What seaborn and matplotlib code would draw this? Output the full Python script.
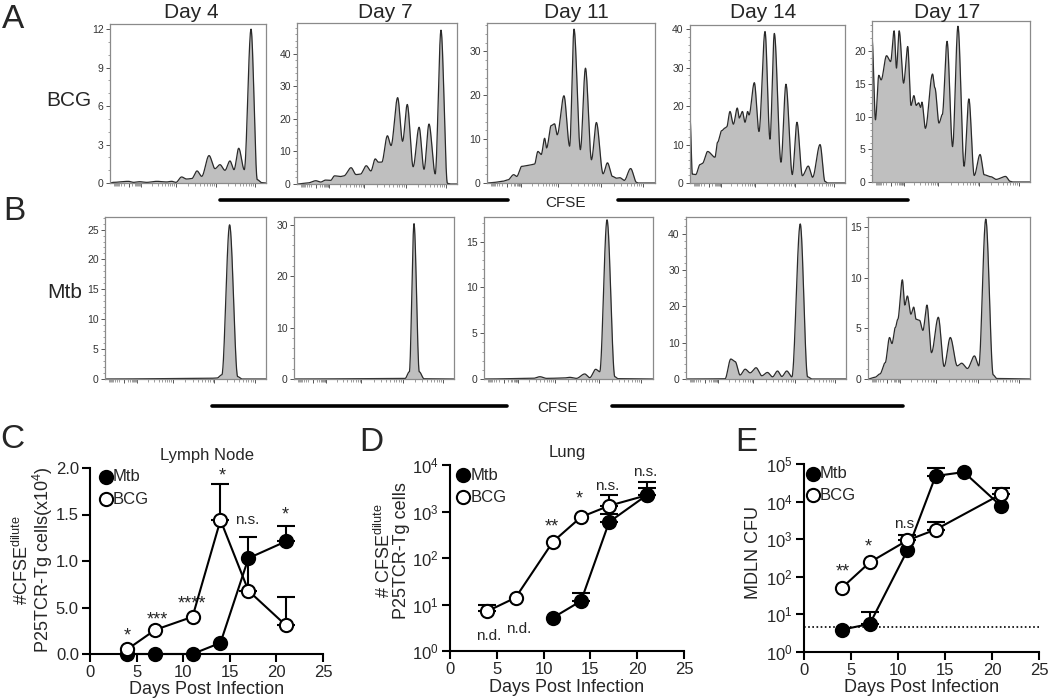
import numpy as np
import pandas as pd
import matplotlib
matplotlib.use("Agg")
import matplotlib.pyplot as plt
import seaborn as sns
from matplotlib.ticker import (MultipleLocator, FixedLocator, NullFormatter, NullLocator,
                               LogFormatterMathtext)

# ---------------- DATA ----------------
# Panel C: lymph node (#CFSE dilute, x10^4)
days = [4, 7, 11, 14, 17, 21]
ln_mtb = [0.0, 0.0, 0.0, 0.12, 1.03, 1.21]
ln_bcg = [0.05, 0.26, 0.40, 1.44, 0.68, 0.31]
ln_mtb_err_days = [21]
ln_mtb_err_top = [1.38]
ln_bcg_err_days = [14, 17, 21]
ln_bcg_err_top = [1.83, 1.26, 0.61]
ln_ytick_vals = [0.0, 0.5, 1.0, 1.5, 2.0]
ln_ytick_labels = ["0.0", "5.0", "1.0", "1.5", "2.0"]

# Panel D: lung
lung_bcg_days = [4, 7, 11, 14, 17, 21]
lung_bcg = [7.2, 14, 224, 760, 1330, 2230]
lung_mtb_days = [11, 14, 17, 21]
lung_mtb = [5.2, 11.9, 594, 2230]
lung_bcg_err_days = [4, 17, 21]
lung_bcg_err_top = [9.7, 2260, 4370]
lung_mtb_err_days = [14, 17, 21]
lung_mtb_err_top = [17.7, 900, 3200]

# Panel E: MDLN CFU
cfu_mtb_days = [4, 7, 11, 14, 17, 21]
cfu_mtb = [3.9, 5.6, 505, 48000, 61000, 7480]
cfu_bcg_days = [4, 7, 11, 14, 21]
cfu_bcg = [50, 243, 933, 1800, 15900]
cfu_mtb_err_days = [7, 14]
cfu_mtb_err_top = [11.6, 78000]
cfu_bcg_err_days = [11, 14, 21]
cfu_bcg_err_top = [1300, 2940, 23500]
cfu_limit = 4.5

# Histogram knots (normalised CFSE position, count) -- peaks and valleys
a4_x = [0, 0.02, 0.118, 0.15, 0.19, 0.235, 0.3, 0.363, 0.395, 0.423, 0.459, 0.491, 0.524, 0.558, 0.588,
        0.635, 0.673, 0.705, 0.737, 0.769, 0.795, 0.825, 0.861, 0.904, 0.944, 0.972, 1]
a4_y = [0, 0.05, 0.13, 0.05, 0.1, 0.05, 0.13, 0.08, 0.13, 0.05, 0.47, 0.31, 0.34, 0.94, 0.52,
        2.14, 1.12, 1.43, 0.99, 1.72, 1.04, 2.71, 1.04, 12.0, 0.26, 0.03, 0]
a7_x = [0, 0.066, 0.118, 0.148, 0.179, 0.21, 0.235, 0.272, 0.293, 0.338, 0.369, 0.396, 0.433, 0.462,
        0.489, 0.509, 0.53, 0.565, 0.588, 0.629, 0.66, 0.689, 0.726, 0.763, 0.794, 0.825, 0.864, 0.9,
        0.94, 0.96, 1]
a7_y = [0, 0.3, 1.0, 0.6, 1.2, 1.1, 2.5, 2.3, 2.5, 5.0, 2.9, 3.0, 5.6, 4.0,
        7.7, 6.7, 6.7, 14.8, 11.8, 26.5, 13.1, 24.4, 5.3, 17.4, 4.5, 18.4, 3.1, 47.2,
        0.2, 0, 0]
a11_x = [0, 0.044, 0.094, 0.124, 0.159, 0.177, 0.207, 0.243, 0.283, 0.303, 0.323, 0.343, 0.355, 0.382,
         0.402, 0.418, 0.458, 0.492, 0.518, 0.556, 0.586, 0.622, 0.651, 0.691, 0.717, 0.747, 0.771,
         0.791, 0.817, 0.855, 0.89, 0.9, 1]
a11_y = [0, 0.15, 0.4, 0.7, 1.9, 1.5, 3.8, 4.0, 4.3, 7.2, 6.5, 10.2, 8.0, 13.1,
         13.5, 11.0, 19.9, 8.4, 35.1, 7.6, 26.2, 5.3, 13.8, 2.1, 4.6, 1.5, 1.1,
         1.2, 0.6, 3.3, 0.15, 0, 0]
a14_x = [0, 0.015, 0.037, 0.065, 0.08, 0.114, 0.161, 0.178, 0.204, 0.226, 0.237, 0.258, 0.28, 0.305,
         0.318, 0.338, 0.355, 0.372, 0.381, 0.415, 0.445, 0.484, 0.516, 0.544, 0.587, 0.619, 0.66,
         0.69, 0.725, 0.763, 0.791, 0.839, 0.871, 0.888, 1]
a14_y = [17.0, 2.3, 2.2, 4.8, 5.1, 8.2, 6.7, 10.6, 13.6, 14.3, 14.6, 18.6, 15.3, 19.5,
         16.9, 18.6, 15.8, 18.6, 17.7, 26.1, 13.4, 39.4, 11.4, 38.9, 5.4, 25.7, 2.2,
         15.8, 1.9, 4.4, 1.5, 10.0, 0.4, 0, 0]
a17_x = [0, 0.022, 0.043, 0.058, 0.092, 0.118, 0.14, 0.155, 0.172, 0.2, 0.226, 0.247, 0.265, 0.28,
         0.295, 0.308, 0.316, 0.338, 0.383, 0.398, 0.424, 0.445, 0.475, 0.51, 0.544, 0.583, 0.613,
         0.647, 0.684, 0.71, 0.753, 0.785, 0.845, 0.875, 0.892, 1]
a17_y = [22.0, 9.5, 16.3, 15.6, 19.3, 18.4, 23.1, 17.4, 23.1, 15.1, 20.7, 11.7, 13.2, 11.7,
         12.1, 11.4, 12.2, 8.2, 16.5, 14.4, 9.0, 10.3, 21.5, 5.4, 23.8, 2.4, 12.7,
         1.0, 4.2, 1.1, 0.8, 0.4, 0.85, 0.1, 0, 0]
b4_x = [0, 0.633, 0.695, 0.726, 0.774, 0.824, 0.851, 1]
b4_y = [0, 0.1, 0.15, 0.7, 25.8, 0.4, 0, 0]
b7_x = [0, 0.694, 0.721, 0.75, 0.783, 0.813, 1]
b7_y = [0, 0.1, 1.4, 30.2, 1.4, 0.05, 0]
b11_x = [0, 0.291, 0.331, 0.37, 0.469, 0.508, 0.547, 0.596, 0.626, 0.661, 0.685, 0.728, 0.774, 0.793, 1]
b11_y = [0, 0.07, 0.25, 0.07, 0.1, 0.18, 0.07, 0.55, 0.15, 1.06, 0.8, 17.4, 0.25, 0.04, 0]
b14_x = [0, 0.244, 0.28, 0.307, 0.338, 0.37, 0.401, 0.438, 0.474, 0.509, 0.541, 0.572, 0.599, 0.63,
         0.662, 0.714, 0.76, 0.787, 1]
b14_y = [0, 0.05, 5.5, 4.8, 1.1, 2.7, 1.7, 3.1, 0.9, 1.8, 0.6, 2.2, 0.7, 2.2,
         0.6, 42.7, 0.6, 0, 0]
b17_x = [0, 0.042, 0.074, 0.106, 0.133, 0.148, 0.169, 0.184, 0.212, 0.227, 0.243, 0.265, 0.282, 0.297,
         0.318, 0.339, 0.364, 0.392, 0.434, 0.47, 0.508, 0.551, 0.578, 0.614, 0.657, 0.684, 0.727,
         0.773, 0.794, 1]
b17_y = [0, 0.16, 0.5, 1.6, 4.1, 3.5, 5.1, 5.9, 9.8, 7.3, 8.2, 6.4, 7.1, 5.9,
         5.8, 4.8, 7.3, 2.6, 6.1, 1.24, 4.1, 1.3, 1.56, 1.04, 2.28, 1.3, 15.8,
         0.4, 0.05, 0]

hist_titles = ["Day 4", "Day 7", "Day 11", "Day 14", "Day 17"]
row_a = [(a4_x, a4_y), (a7_x, a7_y), (a11_x, a11_y), (a14_x, a14_y), (a17_x, a17_y)]
row_b = [(b4_x, b4_y), (b7_x, b7_y), (b11_x, b11_y), (b14_x, b14_y), (b17_x, b17_y)]
row_a_ymax = [12.4, 49.4, 36.5, 41.1, 24.6]
row_b_ymax = [27.1, 31.5, 17.7, 44.6, 16.0]
row_a_ystep = [3, 10, 10, 10, 5]
row_b_ystep = [5, 10, 5, 10, 5]

# ---------------- STYLE ----------------
sns.set_style("ticks")
plt.rcParams["font.family"] = ["Liberation Sans", "DejaVu Sans"]
plt.rcParams["mathtext.fontset"] = "custom"
plt.rcParams["mathtext.rm"] = "Liberation Sans"
plt.rcParams["mathtext.it"] = "Liberation Sans:italic"
plt.rcParams["mathtext.bf"] = "Liberation Sans:bold"

W, H = 1050, 699
fig = plt.figure(figsize=(W / 100, H / 100), dpi=100)
fig.patch.set_facecolor("white")


def rect(x0, x1, y0, y1):
    return [x0 / W, 1 - y1 / H, (x1 - x0) / W, (y1 - y0) / H]


def smooth(xk, yk, n=30):
    xs, ys = [], []
    for i in range(len(xk) - 1):
        t = np.linspace(0, 1, n, endpoint=False)
        s = t * t * (3 - 2 * t)
        xs.append(xk[i] + (xk[i + 1] - xk[i]) * t)
        ys.append(yk[i] + (yk[i + 1] - yk[i]) * s)
    xs.append(np.array([xk[-1]]))
    ys.append(np.array([yk[-1]]))
    return np.concatenate(xs), np.concatenate(ys)


# x-axis decade layout for the CFSE histograms
majors = [0.12, 0.2, 0.42, 0.68, 0.93]
minor_pos = []
for i in range(len(majors) - 1):
    w = majors[i + 1] - majors[i]
    for k in range(2, 10):
        minor_pos.append(majors[i] + w * np.log10(k))
for k in range(2, 10):
    minor_pos.append(majors[0] - 0.1 * np.log10(k))


def hist_panel(box, xk, yk, ymax, ystep):
    ax = fig.add_axes(rect(*box))
    xs, ys = smooth(xk, yk)
    ax.fill_between(xs, ys, 0, color="#bfbfbf", lw=0)
    df = pd.DataFrame({"x": xs, "y": ys})
    sns.lineplot(data=df, x="x", y="y", ax=ax, color="#2a2a2a", lw=0.9,
                 estimator=None, sort=False)
    ax.set_xlim(0, 1)
    ax.set_ylim(0, ymax)
    ax.set_xlabel("")
    ax.set_ylabel("")
    for sp in ax.spines.values():
        sp.set_visible(True)
        sp.set_color("#8a8a8a")
        sp.set_linewidth(0.9)
    ax.yaxis.set_major_locator(MultipleLocator(ystep))
    ax.yaxis.set_minor_locator(MultipleLocator(ystep / 5 if ystep != 3 else 1))
    ax.xaxis.set_major_locator(FixedLocator(majors))
    ax.xaxis.set_minor_locator(FixedLocator(minor_pos))
    ax.xaxis.set_major_formatter(NullFormatter())
    ax.tick_params(axis="y", which="major", length=3, width=0.7, color="#555555",
                   labelsize=7.5, labelcolor="#333333", pad=1.5)
    ax.tick_params(axis="y", which="minor", length=1.6, width=0.5, color="#777777")
    ax.tick_params(axis="x", which="major", length=3, width=0.7, color="#555555")
    ax.tick_params(axis="x", which="minor", length=1.8, width=0.5, color="#777777")
    return ax


boxes_a = [(110, 266, 24, 183), (297, 457, 23, 184), (487, 655, 23, 183),
           (690, 845, 25, 183), (872, 1030, 21, 182)]
boxes_b = [(105, 266, 217, 379), (294, 454, 217, 379), (484, 653, 217, 379),
           (686, 846, 217, 379), (868, 1030, 217, 379)]

for i in range(5):
    hist_panel(boxes_a[i], row_a[i][0], row_a[i][1], row_a_ymax[i], row_a_ystep[i])
    hist_panel(boxes_b[i], row_b[i][0], row_b[i][1], row_b_ymax[i], row_b_ystep[i])

title_x = [191, 385, 576, 763, 947]
for t, x in zip(hist_titles, title_x):
    fig.text(x / W, 1 - 12 / H, t, ha="center", va="center", fontsize=15)

fig.text(13 / W, 1 - 19 / H, "A", ha="center", va="center", fontsize=24)
fig.text(14 / W, 1 - 211 / H, "B", ha="center", va="center", fontsize=24)
fig.text(12 / W, 1 - 440 / H, "C", ha="center", va="center", fontsize=24)
fig.text(371 / W, 1 - 442 / H, "D", ha="center", va="center", fontsize=24)
fig.text(746 / W, 1 - 442 / H, "E", ha="center", va="center", fontsize=24)
fig.text(69 / W, 1 - 101 / H, "BCG", ha="center", va="center", fontsize=15)
fig.text(65 / W, 1 - 293 / H, "Mtb", ha="center", va="center", fontsize=15)

# CFSE bars
for (x0, x1, y) in [(220, 508, 200), (618, 908, 200), (212, 507, 406), (612, 903, 406)]:
    fig.add_artist(plt.Line2D([x0 / W, x1 / W], [1 - y / H, 1 - y / H], color="black", lw=2.6))
fig.text(565 / W, 1 - 203 / H, "CFSE", ha="center", va="center", fontsize=11)
fig.text(558 / W, 1 - 408 / H, "CFSE", ha="center", va="center", fontsize=11)


# ---------------- LINE PANELS ----------------
def line_panel(box, log=False, decades=None):
    ax = fig.add_axes(rect(*box))
    ax.set_facecolor("none")
    sns.despine(ax=ax)
    for s in ["left", "bottom"]:
        ax.spines[s].set_linewidth(1.5)
        ax.spines[s].set_color("black")
    ax.tick_params(axis="both", which="major", length=6, width=1.5, color="black",
                   labelsize=12, pad=2)
    ax.set_xlim(0, 25)
    ax.set_xticks([0, 5, 10, 15, 20, 25])
    if log:
        ax.set_yscale("log")
        ax.yaxis.set_major_locator(FixedLocator(decades))
        ax.yaxis.set_major_formatter(LogFormatterMathtext())
        ax.yaxis.set_minor_locator(NullLocator())
    return ax


def series(ax, x, y, filled, z):
    df = pd.DataFrame({"day": x, "val": y})
    sns.lineplot(data=df, x="day", y="val", ax=ax, color="black", lw=1.5,
                 marker="o", markersize=9.5, markeredgewidth=1.5,
                 markeredgecolor="black",
                 markerfacecolor="black" if filled else "white",
                 estimator=None, sort=False, zorder=z, clip_on=False)


def errs(ax, x, y_all, x_all, tops, z):
    base = [y_all[x_all.index(d)] for d in x]
    up = [t - b for t, b in zip(tops, base)]
    ax.errorbar(x, base, yerr=[[0] * len(x), up], fmt="none", ecolor="black",
                elinewidth=1.5, capsize=6.5, capthick=1.5, zorder=z, clip_on=False)


def legend(ax, fx, fy1, fy2):
    for fy, lab, fc in [(fy1, "Mtb", "black"), (fy2, "BCG", "white")]:
        ax.plot([fx], [fy], transform=ax.transAxes, marker="o", markersize=9.5,
                markeredgewidth=1.5, markeredgecolor="black", markerfacecolor=fc,
                clip_on=False, ls="none")
        ax.text(fx + 0.03, fy, lab, transform=ax.transAxes, ha="left", va="center",
                fontsize=12)


# C
axc = line_panel((90, 323, 468, 654))
axc.set_ylim(0, 2.0)
axc.set_yticks(ln_ytick_vals)
axc.set_yticklabels(ln_ytick_labels)
errs(axc, ln_bcg_err_days, ln_bcg, days, ln_bcg_err_top, 2)
errs(axc, ln_mtb_err_days, ln_mtb, days, ln_mtb_err_top, 2)
series(axc, days, ln_mtb, True, 3)
series(axc, days, ln_bcg, False, 4)
axc.set_xlabel("Days Post Infection", fontsize=13, labelpad=1)
axc.set_ylabel("#CFSE$^{\\mathrm{dilute}}$\nP25TCR-Tg cells(x10$^4$)", fontsize=13,
               linespacing=0.95)
axc.yaxis.set_label_coords(-0.15, 0.505)
axc.set_title("Lymph Node", fontsize=12, pad=6)
legend(axc, 0.069, 0.952, 0.833)
for (dx, dy, s) in [(4.0, 0.10, "*"), (7.2, 0.27, "***"), (10.9, 0.45, "****"),
                    (14.2, 1.82, "*"), (16.9, 1.44, "n.s."), (20.9, 1.40, "*")]:
    axc.text(dx, dy, s, ha="center", va="bottom" if "*" in s else "center",
             fontsize=13 if s != "n.s." else 11)

# D
axd = line_panel((450, 684, 465, 651), log=True, decades=[1, 10, 100, 1e3, 1e4])
axd.set_ylim(1, 1e4)
errs(axd, lung_bcg_err_days, lung_bcg, lung_bcg_days, lung_bcg_err_top, 2)
errs(axd, lung_mtb_err_days, lung_mtb, lung_mtb_days, lung_mtb_err_top, 2)
series(axd, lung_bcg_days, lung_bcg, False, 3)
series(axd, lung_mtb_days, lung_mtb, True, 4)
axd.set_xlabel("Days Post Infection", fontsize=13, labelpad=1)
axd.set_ylabel("# CFSE$^{\\mathrm{dilute}}$\nP25TCR-Tg cells", fontsize=13,
               linespacing=0.92)
axd.yaxis.set_label_coords(-0.17, 0.54)
axd.set_title("Lung", fontsize=12, pad=6)
legend(axd, 0.057, 0.946, 0.826)
for (dx, dy, s) in [(4.1, 2.1, "n.d."), (7.3, 2.9, "n.d."), (10.85, 300, "**"),
                    (13.8, 1250, "*"), (16.8, 3500, "n.s."), (20.9, 7000, "n.s.")]:
    axd.text(dx, dy, s, ha="center", va="bottom" if "*" in s else "center",
             fontsize=13 if "*" in s else 11)

# E
axe = line_panel((804, 1039, 464, 652), log=True, decades=[1, 10, 100, 1e3, 1e4, 1e5])
axe.set_ylim(1, 1e5)
axe.axhline(cfu_limit, color="black", lw=1.2, ls=(0, (1, 1.5)), zorder=1)
errs(axe, cfu_mtb_err_days, cfu_mtb, cfu_mtb_days, cfu_mtb_err_top, 2)
errs(axe, cfu_bcg_err_days, cfu_bcg, cfu_bcg_days, cfu_bcg_err_top, 2)
series(axe, cfu_mtb_days, cfu_mtb, True, 3)
series(axe, cfu_bcg_days, cfu_bcg, False, 4)
axe.set_xlabel("Days Post Infection", fontsize=13, labelpad=1)
axe.set_ylabel("MDLN CFU", fontsize=13)
axe.yaxis.set_label_coords(-0.179, 0.53)
legend(axe, 0.037, 0.947, 0.835)
for (dx, dy, s) in [(4.1, 80, "**"), (6.85, 380, "*"), (10.6, 2600, "n.s")]:
    axe.text(dx, dy, s, ha="center", va="bottom" if "*" in s else "center",
             fontsize=13 if "*" in s else 11)

fig.savefig("out.png", dpi=100, facecolor="white")
